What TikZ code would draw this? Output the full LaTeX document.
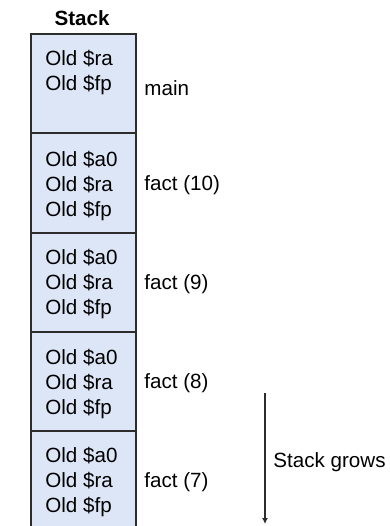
\documentclass[tikz,border=0pt]{standalone}
\usepackage{fontspec}
\usetikzlibrary{arrows.meta}
\setmainfont{Liberation Sans}
\definecolor{framefill}{RGB}{221,230,246}
\definecolor{edge}{RGB}{45,45,45}
\tikzset{
  frame/.style={draw=edge, line width=0.75pt, fill=framefill, minimum width=52.5pt, inner sep=0pt, anchor=north west},
  regs/.style={align=left, anchor=west, inner sep=0pt, font=\fontsize{10.3}{12.5}\selectfont},
  lbl/.style={anchor=west, inner sep=0pt, font=\fontsize{10.3}{12.5}\selectfont},
}
\begin{document}
\begin{tikzpicture}[x=0.5pt,y=-0.5pt]
\useasboundingbox (0,0) rectangle (390,526);
\node[frame, minimum height=49.5pt] (f0) at (30,33) {};
\node[frame, minimum height=50pt] (f1) at (30,132) {};
\node[frame, minimum height=49.5pt] (f2) at (30,232) {};
\node[frame, minimum height=49.5pt] (f3) at (30,331) {};
\node[frame, minimum height=60pt] (f4) at (30,430) {};
\node[font=\bfseries\fontsize{10.3}{12.5}\selectfont] (title) at (82,18) {Stack};
\node[regs] (r0) at (45,73) {Old \$ra\\Old \$fp};
\node[regs] (r1) at (45,186) {Old \$a0\\Old \$ra\\Old \$fp};
\node[regs] (r2) at (45,284) {Old \$a0\\Old \$ra\\Old \$fp};
\node[regs] (r3) at (45,384) {Old \$a0\\Old \$ra\\Old \$fp};
\node[regs] (r4) at (45,482) {Old \$a0\\Old \$ra\\Old \$fp};
\node[lbl] (l0) at (144,88) {main};
\node[lbl] (l1) at (144,185) {fact (10)};
\node[lbl] (l2) at (144,284) {fact (9)};
\node[lbl] (l3) at (144,383) {fact (8)};
\node[lbl] (l4) at (144,482) {fact (7)};
\coordinate (gtop) at (265,393);
\coordinate (gbot) at (265,524);
\draw[edge, line width=0.7pt, -{Latex[length=3pt,width=3pt]}] (gtop) -- (gbot);
\node[lbl] (grow) at (273,462) {Stack grows};
\end{tikzpicture}
\end{document}
